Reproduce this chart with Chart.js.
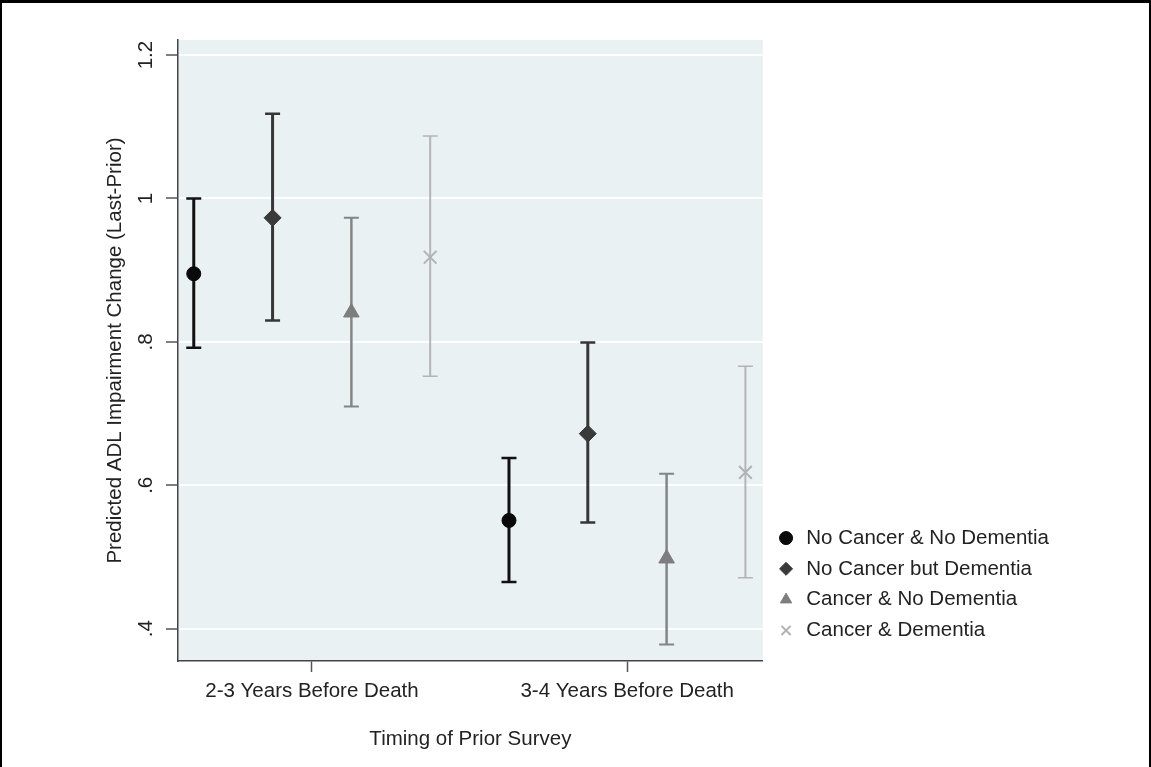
<!DOCTYPE html>
<html>
<head>
<meta charset="utf-8">
<title>Predicted ADL Impairment Change</title>
<script src="https://cdn.jsdelivr.net/npm/chart.js@4.4.1/dist/chart.umd.min.js"></script>
<style>
  html, body { margin: 0; padding: 0; background: #fff; }
  .frame { position: relative; width: 1151px; height: 767px; }
  .frame canvas { position: absolute; left: 0; top: 0; }
  .border { position: absolute; left: 0; top: 0; width: 1151px; height: 767px; box-sizing: border-box;
            border: 2px solid #000; border-top-width: 3px; border-bottom: none; pointer-events: none; }
</style>
</head>
<body>
<div class="frame">
  <canvas id="myChart" width="1151" height="767"></canvas>
  <div class="border"></div>
</div>
<script>
// Data
var categories = ['2-3 Years Before Death', '3-4 Years Before Death'];
var seriesNames = ['No Cancer & No Dementia', 'No Cancer but Dementia', 'Cancer & No Dementia', 'Cancer & Dementia'];
// one row per series, one column per category
var estimates = [[0.895, 0.551], [0.973, 0.672], [0.841, 0.498], [0.918, 0.618]];
var lowerCI   = [[0.792, 0.465], [0.830, 0.548], [0.710, 0.378], [0.752, 0.471]];
var upperCI   = [[1.000, 0.638], [1.118, 0.799], [0.973, 0.616], [1.087, 0.766]];
var yTickValues = [0.4, 0.6, 0.8, 1, 1.2];
var yTickLabels = ['.4', '.6', '.8', '1', '1.2'];

// styles
var dodge = [-0.375, -0.125, 0.125, 0.375];
var markerStyles = ['circle', 'rectRot', 'triangle', 'crossRot'];
var markerSizes = [7, 8.5, 9, 9];
var markerColors = ['#0a0a0a', '#3a3a3a', '#7d7d7d', '#b2b2b2'];
var lineColors = ['#111111', '#363636', '#858585', '#b5b5b5'];
var lineWidths = [3, 3, 2.5, 2];

Chart.defaults.font.family = '"Liberation Sans", Arial, sans-serif';
Chart.defaults.font.size = 20.5;
Chart.defaults.color = '#222';

var datasets = [];
// point estimates first so they draw on top of the whiskers
seriesNames.forEach(function (name, s) {
  datasets.push({
    label: name,
    data: categories.map(function (c, i) { return { x: i + 1 + dodge[s], y: estimates[s][i] }; }),
    showLine: false,
    pointStyle: markerStyles[s],
    pointRadius: markerSizes[s],
    pointBackgroundColor: markerColors[s],
    pointBorderColor: markerColors[s],
    pointBorderWidth: s === 3 ? 2 : 1,
    backgroundColor: markerColors[s],
    borderColor: markerColors[s]
  });
});
seriesNames.forEach(function (name, s) {
  var pts = [];
  categories.forEach(function (c, i) {
    var x = i + 1 + dodge[s];
    pts.push({ x: x, y: lowerCI[s][i] });
    pts.push({ x: x, y: upperCI[s][i] });
    pts.push({ x: x, y: null });
  });
  datasets.push({
    label: name + ' 95% CI',
    isCI: true,
    data: pts,
    showLine: true,
    spanGaps: false,
    tension: 0,
    borderColor: lineColors[s],
    borderWidth: lineWidths[s],
    pointStyle: 'line',
    pointRadius: 7.5,
    pointBorderWidth: lineWidths[s] - 0.5,
    pointBorderColor: lineColors[s],
    pointBackgroundColor: lineColors[s]
  });
});

var plotBackground = {
  id: 'plotBackground',
  beforeDraw: function (chart) {
    var a = chart.chartArea, ctx = chart.ctx;
    ctx.save();
    ctx.fillStyle = '#e9f1f3';
    ctx.fillRect(a.left, a.top, a.right - a.left, a.bottom - a.top);
    ctx.restore();
  }
};

// the layout caps the legend box width, so widen it and move it to where it sits in the figure
var legendNudge = {
  id: 'legendNudge',
  afterLayout: function (chart) {
    var lg = chart.legend;
    lg.left = chart.chartArea.right + 3;
    lg.width = 330;
    lg.right = lg.left + lg.width;
    lg.top -= 10; lg.bottom -= 10;
  }
};

var ctx = document.getElementById('myChart').getContext('2d');
var myChart = new Chart(ctx, {
  type: 'scatter',
  data: { datasets: datasets },
  plugins: [plotBackground, legendNudge],
  options: {
    responsive: false,
    animation: false,
    events: [],
    layout: { padding: { top: 40, left: 0, bottom: 0, right: 134 } },
    plugins: {
      tooltip: { enabled: false },
      legend: {
        position: 'right',
        align: 'end',
        fullSize: false,
        labels: {
          usePointStyle: true,
          boxWidth: 20,
          boxHeight: 9.2,
          padding: 10.3,
          color: '#222',
          font: { size: 20.5 },
          filter: function (item, data) { return !data.datasets[item.datasetIndex].isCI; }
        }
      }
    },
    scales: {
      x: {
        type: 'linear',
        min: 0.575,
        max: 2.43,
        afterBuildTicks: function (scale) {
          scale.ticks = categories.map(function (c, i) { return { value: i + 1 }; });
        },
        afterFit: function (scale) { scale.height = 106; },
        ticks: {
          autoSkip: false,
          maxRotation: 0,
          padding: 7,
          color: '#222',
          callback: function (v) { return categories[Math.round(v) - 1]; }
        },
        grid: { drawOnChartArea: false, tickLength: 11, tickColor: '#555', tickWidth: 1.5 },
        border: { color: '#444', width: 1.5 },
        title: { display: true, text: 'Timing of Prior Survey', color: '#222', padding: { top: 0, bottom: 15 } }
      },
      y: {
        type: 'linear',
        min: 0.355,
        max: 1.221,
        afterBuildTicks: function (scale) {
          scale.ticks = yTickValues.map(function (v) { return { value: v }; });
        },
        afterFit: function (scale) { scale.width = 178; },
        ticks: {
          autoSkip: false,
          minRotation: 90,
          maxRotation: 90,
          crossAlign: 'center',
          padding: 5,
          color: '#222',
          callback: function (v) {
            var i = yTickValues.findIndex(function (t) { return Math.abs(t - v) < 1e-9; });
            return i >= 0 ? yTickLabels[i] : '';
          }
        },
        grid: { color: '#ffffff', lineWidth: 2, tickLength: 12, tickColor: '#555', tickWidth: 1.5 },
        border: { color: '#444', width: 1.5 },
        title: { display: true, text: 'Predicted ADL Impairment Change (Last-Prior)', color: '#222', padding: { top: 103, bottom: 0 } }
      }
    }
  }
});
</script>
</body>
</html>
